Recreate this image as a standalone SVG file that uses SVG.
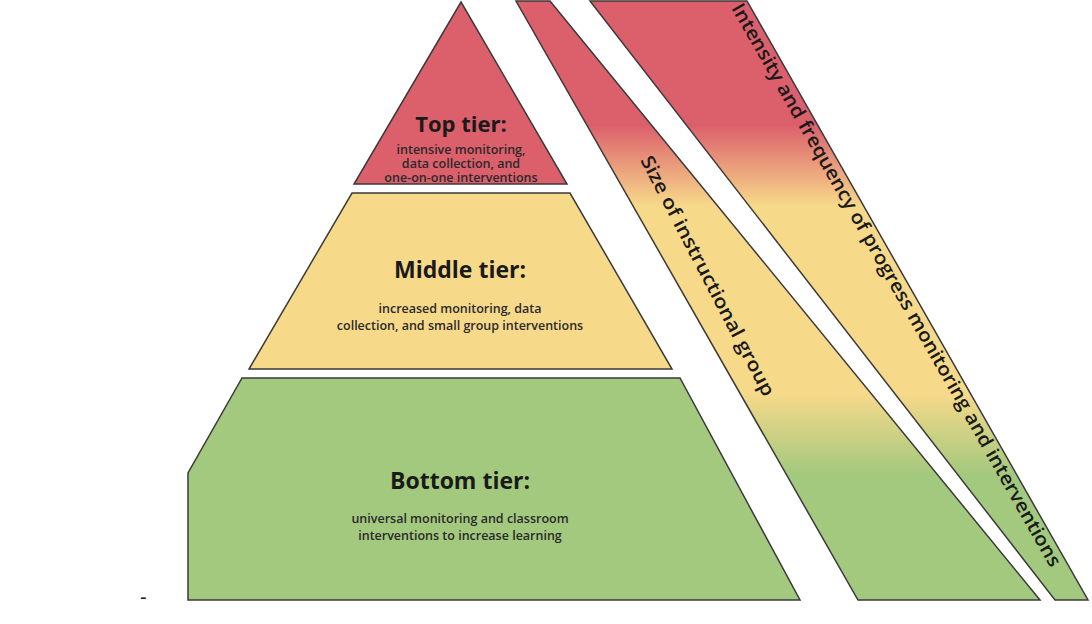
<svg xmlns="http://www.w3.org/2000/svg" width="1092" height="624" viewBox="0 0 1092 624">
<style>
.s{stroke:#3a3a3a;stroke-width:1.5}
.h{font-family:"Open Sans",sans-serif;font-weight:700;fill:#1a1a1a;text-anchor:middle}
.b{font-family:"Open Sans",sans-serif;font-weight:600;fill:#2a2a2a;text-anchor:middle;font-size:12.5px}
.r{font-family:"Open Sans",sans-serif;font-weight:600;fill:#1a1a1a;font-size:19px}
</style>
<defs>
<linearGradient id="g" x1="0" y1="0" x2="0" y2="624" gradientUnits="userSpaceOnUse">
<stop offset="0.2" stop-color="#dc5f6c"/>
<stop offset="0.33" stop-color="#f7d98a"/>
<stop offset="0.63" stop-color="#f7d98a"/>
<stop offset="0.76" stop-color="#a3c97e"/>
</linearGradient>
</defs>
<rect width="1092" height="624" fill="#fff"/>
<g id="top"><polygon class="s" points="461,2 567,184 354,184" fill="#dc5f6c"/>
<text class="h" x="461" y="132" font-size="22">Top tier:</text>
<text class="b" x="461" y="154">intensive monitoring,</text>
<text class="b" x="461" y="168">data collection, and</text>
<text class="b" x="461" y="182">one-on-one interventions</text></g>
<g id="middle"><polygon class="s" points="352,193 570,193 672,369 249,369" fill="#f7d98a"/>
<text class="h" x="460" y="278" font-size="23">Middle tier:</text>
<text class="b" x="460" y="313">increased monitoring, data</text>
<text class="b" x="460" y="330">collection, and small group interventions</text></g>
<g id="bottom"><polygon class="s" points="242,378 680,378 800,600 188,600 188,473" fill="#a3c97e"/>
<text class="h" x="460" y="489" font-size="23">Bottom tier:</text>
<text class="b" x="460" y="523">universal monitoring and classroom</text>
<text class="b" x="460" y="540">interventions to increase learning</text></g>
<g id="size"><polygon class="s" points="516,1 550,1 1040,600 858,600" fill="url(#g)"/>
<text class="r" transform="translate(640,160) rotate(62.5)" textLength="268" lengthAdjust="spacingAndGlyphs">Size of instructional group</text></g>
<g id="intensity"><polygon class="s" points="590,1 747,1 1088,600 1055,600" fill="url(#g)"/>
<text class="r" transform="translate(731,8) rotate(60.3)" textLength="645" lengthAdjust="spacingAndGlyphs">Intensity and frequency of progress monitoring and interventions</text></g>
<g id="connectors"/>
<text x="140" y="604" font-family="Liberation Sans,sans-serif" font-size="20" fill="#222">-</text>
</svg>
